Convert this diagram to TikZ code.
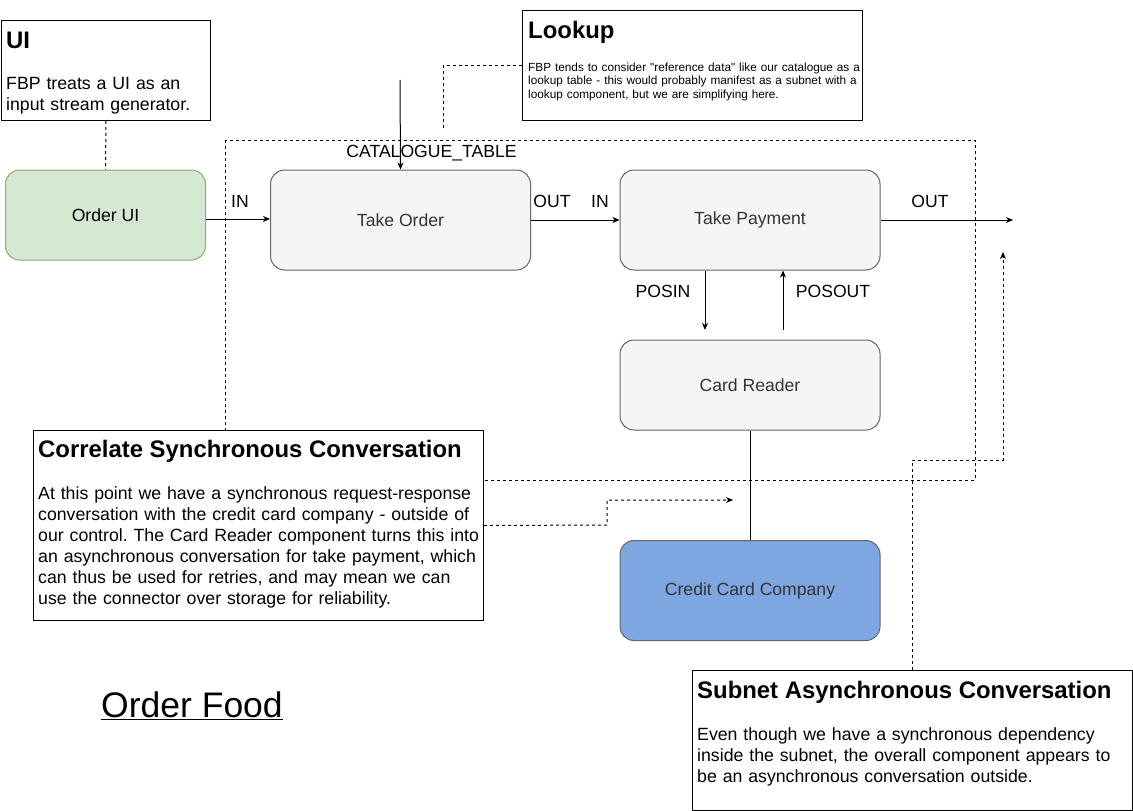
\documentclass[tikz,border=0pt]{standalone}
\usepackage{fontspec}
\setmainfont{Liberation Sans}[Ligatures=TeXOff]
\usetikzlibrary{arrows.meta}
\frenchspacing
\definecolor{uifill}{HTML}{D5E8D4}
\definecolor{uiline}{HTML}{82B366}
\definecolor{procfill}{HTML}{F5F5F5}
\definecolor{procline}{HTML}{666666}
\definecolor{proctext}{HTML}{333333}
\definecolor{ccfill}{HTML}{7EA6E0}
\newcommand{\fsz}[2]{\fontsize{#1}{#2}\selectfont}
\tikzset{
  proc/.style={rectangle, rounded corners=14pt, draw=procline, fill=procfill, text=proctext,
    minimum width=260pt, minimum height=100pt, inner sep=0pt, line width=1pt, font=\fsz{17.6}{21}},
  notebox/.style={rectangle, draw=black, fill=white, line width=1pt, inner sep=0pt, anchor=north west},
  ttl/.style={anchor=base west, inner sep=0pt, font=\bfseries\fsz{23.9}{28}},
  txt/.style={anchor=base west, inner sep=0pt, align=left, font=\fsz{17.7}{21}},
  smalltxt/.style={anchor=base west, inner sep=0pt, align=left, font=\fsz{11.8}{13.5}},
  lbl/.style={anchor=base, inner sep=0pt, font=\fsz{17.6}{21}},
  arr/.style={-{Stealth[length=7pt,width=6pt,inset=2pt]}, line width=1pt},
  dsh/.style={dash pattern=on 3pt off 3pt, line width=1pt}
}
\begin{document}
\begin{tikzpicture}[x=1pt,y=-1pt]
\useasboundingbox (0,0) rectangle (1133,811);

% subnet container (dashed)
\coordinate (cnw) at (225,140);
\coordinate (cse) at (975,480);
\draw[dsh] (cnw) rectangle (cse);

% process nodes
\node[proc, fill=uifill, draw=uiline, text=black, minimum width=200pt, minimum height=90pt] (orderui) at (105.5,215) {Order UI};
\node[proc] (takeorder) at (400.5,220) {Take Order};
\node[proc] (takepay) at (750,220) {Take Payment};
\node[proc, minimum height=90pt] (cardreader) at (750,385) {Card Reader};
\node[proc, fill=ccfill] (ccc) at (750,590.5) {Credit Card Company};

% UI note
\node[notebox, minimum width=209pt, minimum height=100pt] (uinote) at (1,20) {};
\node[ttl] (uititle) at (6,48) {UI};
\node[txt, text width=600pt] (uibody) at (6,89) {FBP treats a UI as an\\input stream generator.};

% Lookup note
\node[notebox, minimum width=340pt, minimum height=110pt] (lookup) at (522,10) {};
\node[ttl] (lktitle) at (528,38) {Lookup};
\node[smalltxt, text width=600pt] (lkbody) at (528,71) {FBP tends to consider "reference data" like our catalogue as a\\lookup table - this would probably manifest as a subnet with a\\lookup component, but we are simplifying here.};

% Correlate note
\node[notebox, minimum width=450pt, minimum height=190pt] (corr) at (33,430) {};
\node[ttl] (corrtitle) at (38,457) {Correlate Synchronous Conversation};
\node[txt, text width=600pt] (corrbody) at (38,499) {At this point we have a synchronous request-response\\conversation with the credit card company - outside of\\our control. The Card Reader component turns this into\\an asynchronous conversation for take payment, which\\can thus be used for retries, and may mean we can\\use the connector over storage for reliability.};

% Subnet note
\node[notebox, minimum width=440pt, minimum height=140pt] (subnet) at (692,670) {};
\node[ttl] (subtitle) at (697,698) {Subnet Asynchronous Conversation};
\node[txt, text width=600pt] (subbody) at (697,740) {Even though we have a synchronous dependency\\inside the subnet, the overall component appears to\\be an asynchronous conversation outside.};

% title
\node[anchor=base, inner sep=0pt, font=\fsz{35.5}{42}] (ordfood) at (192,717) {\underline{Order Food}};

% coordinates for free ends
\coordinate (catin) at (400,80);
\coordinate (outend) at (1013,220);
\coordinate (posinend) at (705,330);
\coordinate (posoutstart) at (783,330);
\coordinate (lkend) at (443,130);
\coordinate (corrend) at (733,500);
\coordinate (subend) at (1003,252);

% solid connectors
\draw[arr] (orderui.east |- 0,219) -- (takeorder.west |- 0,219);
\draw[arr] (catin) -- (takeorder.north);
\draw[arr] (takeorder.east) -- (takepay.west);
\draw[arr] (takepay.east) -- (outend);
\draw[arr] (posinend |- takepay.south) -- (posinend);
\draw[arr] (posoutstart) -- (posoutstart |- takepay.south);
\draw[line width=1pt] (cardreader.south) -- (ccc.north);

% dashed connectors
\draw[dsh] (uinote.south) -- (orderui.north);
\draw[dsh] (lookup.west) -| (lkend);
\draw[dsh, arr] (corr.east) -- (607,525) -- (607,500) -- (corrend);
\draw[dsh, arr] (subnet.north -| 912,0) -- (912,460) -- (1003,460) -- (subend);

% labels
\node[lbl] (lin1) at (240,207) {IN};
\node[lbl] (lcat) at (431.5,157) {CATALOGUE\_TABLE};
\node[lbl] (lout1) at (552,207) {OUT};
\node[lbl] (lin2) at (600,207) {IN};
\node[lbl] (lout2) at (930,207) {OUT};
\node[lbl] (lposin) at (663,297) {POSIN};
\node[lbl] (lposout) at (833,297) {POSOUT};
\end{tikzpicture}
\end{document}
